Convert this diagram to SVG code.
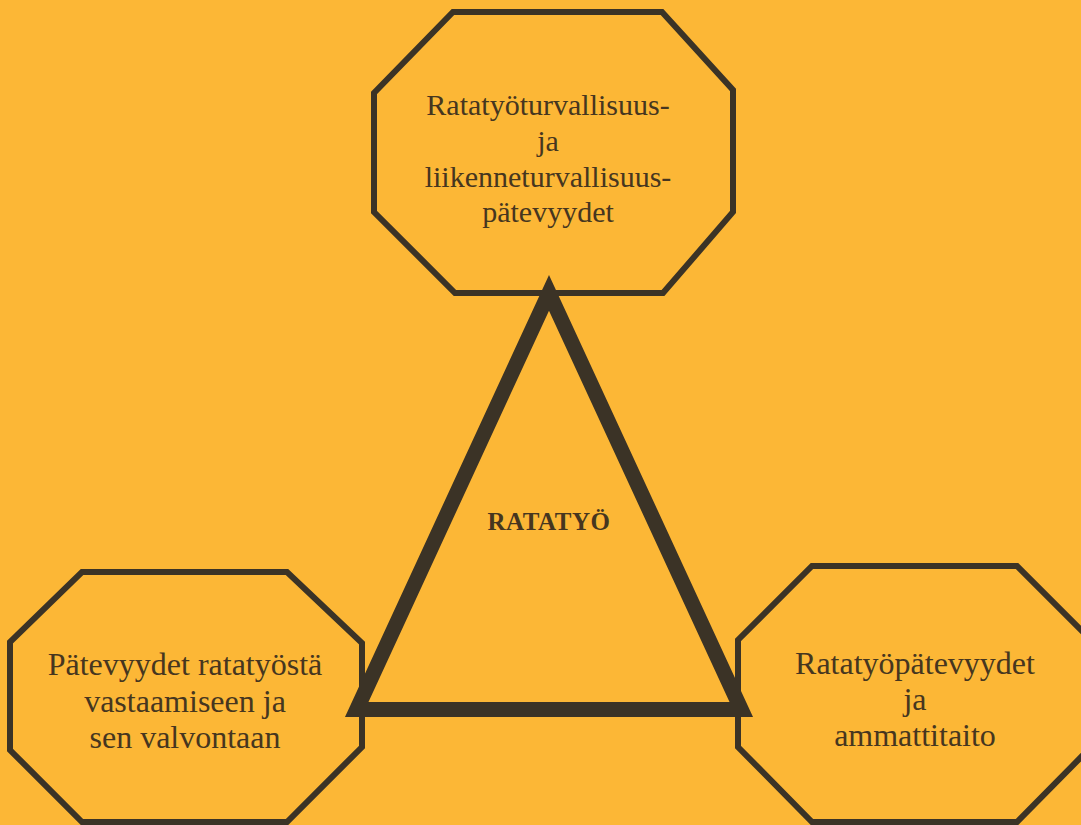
<svg xmlns="http://www.w3.org/2000/svg" width="1081" height="825" viewBox="0 0 1081 825">
<style>
.oct{fill:none;stroke:#3b3326;stroke-width:6;stroke-linejoin:miter}
.tri{fill:none;stroke:#3b3326;stroke-width:15;stroke-linejoin:miter;stroke-miterlimit:10}
.lbl{font-family:"Liberation Serif","Times New Roman",serif;fill:#46361f;text-anchor:middle}
.big{font-size:32px}
.top{font-size:30px}
.ctr{font-size:25px;font-weight:bold;letter-spacing:0.5px}
</style>
<rect x="0" y="0" width="1081" height="825" fill="#FCB736"/>
<g id="connectors">
<polygon class="tri" points="549,292.8 356.7,709.5 741.3,709.5"/>
</g>
<g id="node-top">
<polygon class="oct" points="453,12 662,12 733,90 733,212 663,293 455,293 374,212 374,93"/>
<text class="lbl top" x="548" y="115">Ratatyöturvallisuus-</text>
<text class="lbl top" x="548" y="151">ja</text>
<text class="lbl top" x="548" y="187">liikenneturvallisuus-</text>
<text class="lbl top" x="548" y="222">pätevyydet</text>
</g>
<g id="node-left">
<polygon class="oct" points="82,572 287,572 362,643 362,747 287,822 82,822 10,750 10,642"/>
<text class="lbl big" x="185" y="675">Pätevyydet ratatyöstä</text>
<text class="lbl big" x="185" y="712">vastaamiseen ja</text>
<text class="lbl big" x="185" y="748">sen valvontaan</text>
</g>
<g id="node-right">
<polygon class="oct" points="812,566 1017,566 1091,640 1091,747 1017,822 812,822 738,747 738,640"/>
<text class="lbl big" x="915" y="674">Ratatyöpätevyydet</text>
<text class="lbl big" x="915" y="710">ja</text>
<text class="lbl big" x="915" y="746">ammattitaito</text>
</g>
<g id="node-center">
<text class="lbl ctr" x="549" y="530">RATATYÖ</text>
</g>
</svg>
